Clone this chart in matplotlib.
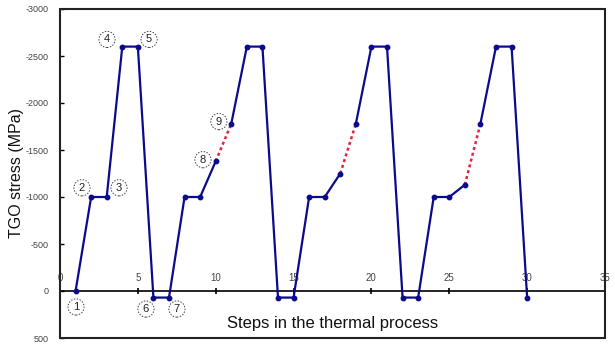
import matplotlib
matplotlib.use("Agg")
import matplotlib.pyplot as plt
from matplotlib.patches import Rectangle

plt.rcParams["font.family"] = ["Liberation Sans", "DejaVu Sans"]

# Data
steps = list(range(1, 31))
stress = [0, -1000, -1000, -2600, -2600, 70, 70,
          -1000, -1000, -1380, -1780, -2600, -2600, 70, 70,
          -1000, -1000, -1250, -1780, -2600, -2600, 70, 70,
          -1000, -1000, -1130, -1780, -2600, -2600, 70]
# red dotted transitions (step pairs)
red_pairs = [(10, 11), (18, 19), (26, 27)]
labels = ["1", "2", "3", "4", "5", "6", "7", "8", "9"]
label_xy = [(1.03, 170), (1.41, -1098), (3.79, -1098), (3.02, -2676), (5.72, -2676),
            (5.52, 192), (7.51, 192), (9.18, -1397), (10.2, -1802)]
xticks = [0, 5, 10, 15, 20, 25, 30, 35]
yticks = [-3000, -2500, -2000, -1500, -1000, -500, 0, 500]

fig = plt.figure(figsize=(6.15, 3.44), dpi=100)
ax = fig.add_axes([60/615, 1-338/344, (605-60)/615, (338-9)/344])
ax.set_xlim(0, 35)
ax.set_ylim(500, -3000)

blue = "#0a0a8c"
breaks = [p[0] for p in red_pairs]
seg_start = 0
segs = []
for b in breaks:
    end = steps.index(b)
    segs.append((seg_start, end))
    seg_start = end + 1
segs.append((seg_start, len(steps) - 1))
for s, e in segs:
    ax.plot(steps[s:e+1], stress[s:e+1], color=blue, lw=1.6, marker="o", ms=3.2, zorder=3)
for a, b in red_pairs:
    i, j = steps.index(a), steps.index(b)
    ax.plot([steps[i], steps[j]], [stress[i], stress[j]], color="#e8203c", lw=1.8,
            ls=(0, (1.2, 1.2)), zorder=2)

# circled labels
for t, (x, y) in zip(labels, label_xy):
    ax.text(x, y, t, ha="center", va="center", fontsize=8, color="#222222",
            bbox=dict(boxstyle="circle,pad=0.28", fc="white", ec="#444444",
                      ls=(0, (1.5, 1.5)), lw=0.7),
            zorder=5)

# spines: x axis line at y=0, with a full box frame
for s in ["left", "right", "bottom"]:
    ax.spines[s].set_visible(False)
ax.spines["top"].set_position(("data", 0))
ax.spines["top"].set_linewidth(1.2)
ax.xaxis.set_ticks_position("top")
ax.set_xticks(xticks)
ax.set_xticklabels([str(v) for v in xticks])
ax.tick_params(axis="x", direction="inout", length=5, width=1.2, labelsize=7,
               labelcolor="#444444", pad=3)
ax.add_patch(Rectangle((0, 0), 1, 1, transform=ax.transAxes, fill=False,
                       ec="#222222", lw=1.5, clip_on=False, zorder=6))

ax.set_yticks(yticks)
ax.set_yticklabels([str(v) for v in yticks])
ax.tick_params(axis="y", direction="in", length=3, width=1, labelsize=6.5,
               labelcolor="#444444", pad=8)
ax.set_ylabel("TGO stress (MPa)", fontsize=11.5, color="#111111")
ax.yaxis.set_label_coords(-0.066, 0.5)

ax.text(0.5, 0.045, "Steps in the thermal process", transform=ax.transAxes,
        ha="center", va="center", fontsize=12, color="#111111")

fig.savefig("out.png", dpi=100)
